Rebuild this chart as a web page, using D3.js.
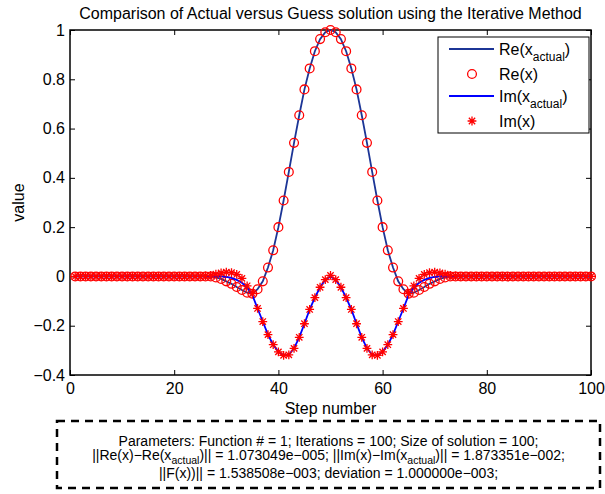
<!DOCTYPE html>
<html>
<head>
<meta charset="utf-8">
<script src="https://cdn.jsdelivr.net/npm/d3@7"></script>
<style>
  body { margin: 0; background: #fff; }
  text { font-family: "Liberation Sans", Arial, sans-serif; fill: #000; }
</style>
</head>
<body>
<svg id="chart" width="605" height="494"></svg>
<script>
// step index 1..100
var steps = d3.range(1, 101);

var reActual = [
  0,0,0,0,0,0,0,0,0,0, 0,0,0,0,0,0,0,0,0,0,
  0,0,0,0,0,0,0,-0.004,-0.010,-0.020,
  -0.030,-0.043,-0.055,-0.066,-0.070,-0.052,-0.020,0.036,0.106,0.200,
  0.308,0.424,0.542,0.654,0.759,0.844,0.914,0.963,0.991,1.000,
  0.991,0.963,0.914,0.844,0.759,0.654,0.542,0.424,0.308,0.200,
  0.106,0.036,-0.020,-0.052,-0.070,-0.066,-0.055,-0.043,-0.030,-0.020,
  -0.010,-0.004,0,0,0,0,0,0,0,0,
  0,0,0,0,0,0,0,0,0,0, 0,0,0,0,0,0,0,0,0,0
];
var reGuess = [
  0,0,0,0,0,0,0,0,0,0, 0,0,0,0,0,0,0,0,0,0,
  0,0,0,0,0,0,0,-0.004,-0.010,-0.020,
  -0.030,-0.043,-0.055,-0.066,-0.070,-0.052,-0.020,0.036,0.106,0.200,
  0.308,0.424,0.542,0.654,0.759,0.844,0.914,0.963,0.991,1.000,
  0.991,0.963,0.914,0.844,0.759,0.654,0.542,0.424,0.308,0.200,
  0.106,0.036,-0.020,-0.052,-0.070,-0.066,-0.055,-0.043,-0.030,-0.020,
  -0.010,-0.004,0,0,0,0,0,0,0,0,
  0,0,0,0,0,0,0,0,0,0, 0,0,0,0,0,0,0,0,0,0
];
var imActual = [
  0,0,0,0,0,0,0,0,0,0, 0,0,0,0,0,0,0,0,0,0,
  0,0,0,0,0,0,0,0,0,-0.002,
  -0.006,-0.014,-0.026,-0.045,-0.075,-0.130,-0.183,-0.236,-0.277,-0.306,
  -0.320,-0.318,-0.292,-0.247,-0.192,-0.134,-0.086,-0.044,-0.013,0,
  -0.013,-0.044,-0.086,-0.134,-0.192,-0.247,-0.292,-0.318,-0.320,-0.306,
  -0.277,-0.236,-0.183,-0.130,-0.075,-0.045,-0.026,-0.014,-0.006,-0.002,
  0,0,0,0,0,0,0,0,0,0,
  0,0,0,0,0,0,0,0,0,0, 0,0,0,0,0,0,0,0,0,0
];
var imGuess = [
  0,0,0,0,0,0,0,0,0,0, 0,0,0,0,0,0,0,0,0,0,
  0,0,0,0,0,0.002,0.004,0.009,0.014,0.017,
  0.015,0.008,-0.008,-0.038,-0.070,-0.130,-0.183,-0.236,-0.277,-0.306,
  -0.320,-0.318,-0.292,-0.247,-0.192,-0.134,-0.086,-0.044,-0.013,0.004,
  -0.013,-0.044,-0.086,-0.134,-0.192,-0.247,-0.292,-0.318,-0.320,-0.306,
  -0.277,-0.236,-0.183,-0.130,-0.070,-0.038,-0.008,0.008,0.015,0.017,
  0.014,0.009,0.004,0.002,0,0,0,0,0,0,
  0,0,0,0,0,0,0,0,0,0, 0,0,0,0,0,0,0,0,0,0
];

var xTicks = [0, 20, 40, 60, 80, 100];
var yTicks = [-0.4, -0.2, 0, 0.2, 0.4, 0.6, 0.8, 1];

var titleText = "Comparison of Actual versus Guess solution using the Iterative Method";
var xLabel = "Step number";
var yLabel = "value";

var svg = d3.select("#chart");
// plot box (do not use "top" as a global name: it is window.top)
var pL = 70, pR = 591, pT = 30, pB = 375;

var x = d3.scaleLinear().domain([0, 100]).range([pL, pR]);
var y = d3.scaleLinear().domain([-0.4, 1]).range([pB, pT]);

var navy = "#1c3596", blue = "#0000ff", red = "#ff0000";

// star marker like matlab '*'
function starPath(cx, cy, r) {
  var d = r * 0.72;
  return "M" + (cx - r) + "," + cy + "H" + (cx + r) +
    "M" + cx + "," + (cy - r) + "V" + (cy + r) +
    "M" + (cx - d) + "," + (cy - d) + "L" + (cx + d) + "," + (cy + d) +
    "M" + (cx - d) + "," + (cy + d) + "L" + (cx + d) + "," + (cy - d);
}

// title
svg.append("text").attr("x", (pL + pR) / 2).attr("y", 19)
  .attr("text-anchor", "middle").style("font-size", "16px").text(titleText);

// axes (ticks inward, box on)
var fmt = d3.format("~g");
svg.append("g").attr("transform", "translate(0," + pB + ")")
  .call(d3.axisBottom(x).tickValues(xTicks).tickFormat(fmt).tickSize(-5).tickPadding(8));
svg.append("g").attr("transform", "translate(0," + pT + ")")
  .call(d3.axisTop(x).tickValues(xTicks).tickFormat("").tickSize(-5));
svg.append("g").attr("transform", "translate(" + pL + ",0)")
  .call(d3.axisLeft(y).tickValues(yTicks).tickFormat(fmt).tickSize(-5).tickPadding(5));
svg.append("g").attr("transform", "translate(" + pR + ",0)")
  .call(d3.axisRight(y).tickValues(yTicks).tickFormat("").tickSize(-5));
svg.selectAll(".domain").remove();
svg.selectAll(".tick line").attr("stroke", "#000").attr("stroke-width", 1);
svg.selectAll(".tick text").style("font-size", "16px")
  .style("font-family", "Liberation Sans, Arial, sans-serif").attr("fill", "#000");

svg.append("rect").attr("x", pL).attr("y", pT)
  .attr("width", pR - pL).attr("height", pB - pT)
  .attr("fill", "none").attr("stroke", "#000").attr("stroke-width", 1.5);

// axis labels
svg.append("text").attr("x", (pL + pR) / 2).attr("y", 414)
  .attr("text-anchor", "middle").style("font-size", "16px").text(xLabel);
svg.append("text").attr("transform", "translate(24," + ((pT + pB) / 2) + ") rotate(-90)")
  .attr("text-anchor", "middle").style("font-size", "16px").text(yLabel);

// series
var plot = svg.append("g");
var line = function (vals) {
  return d3.line().x(function (d, i) { return x(steps[i]); })
    .y(function (d) { return y(d); })(vals);
};

plot.append("path").attr("d", line(reActual)).attr("fill", "none")
  .attr("stroke", navy).attr("stroke-width", 1.8);

plot.selectAll("circle.re").data(reGuess).enter().append("circle")
  .attr("class", "re")
  .attr("cx", function (d, i) { return x(steps[i]); })
  .attr("cy", function (d) { return y(d); })
  .attr("r", 4.4).attr("fill", "none").attr("stroke", red).attr("stroke-width", 1.3);

plot.append("path").attr("d", line(imActual)).attr("fill", "none")
  .attr("stroke", blue).attr("stroke-width", 1.8);

plot.selectAll("path.im").data(imGuess).enter().append("path")
  .attr("class", "im")
  .attr("d", function (d, i) { return starPath(x(steps[i]), y(d), 4.4); })
  .attr("fill", "none").attr("stroke", red).attr("stroke-width", 1.3);

// legend
var lg = svg.append("g");
lg.append("rect").attr("x", 438).attr("y", 37).attr("width", 151).attr("height", 96)
  .attr("fill", "#fff").attr("stroke", "#000").attr("stroke-width", 1);
var rows = [
  { name: "Re(x", sub: "actual", tail: ")", kind: "line", color: navy, cy: 49 },
  { name: "Re(x)", kind: "circle", color: red, cy: 74 },
  { name: "Im(x", sub: "actual", tail: ")", kind: "line", color: blue, cy: 96 },
  { name: "Im(x)", kind: "star", color: red, cy: 121 }
];
rows.forEach(function (r) {
  if (r.kind === "line") {
    lg.append("line").attr("x1", 449).attr("x2", 494).attr("y1", r.cy).attr("y2", r.cy)
      .attr("stroke", r.color).attr("stroke-width", 1.8);
  } else if (r.kind === "circle") {
    lg.append("circle").attr("cx", 472).attr("cy", r.cy).attr("r", 4.4)
      .attr("fill", "none").attr("stroke", r.color).attr("stroke-width", 1.3);
  } else {
    lg.append("path").attr("d", starPath(472, r.cy, 4.4))
      .attr("fill", "none").attr("stroke", r.color).attr("stroke-width", 1.3);
  }
  var t = lg.append("text").attr("x", 499).attr("y", r.cy + 6).style("font-size", "16px");
  t.append("tspan").text(r.name);
  if (r.sub) {
    t.append("tspan").attr("dy", 6).style("font-size", "12px").text(r.sub);
    t.append("tspan").attr("dy", -6).text(r.tail);
  }
});

// parameter box
svg.append("rect").attr("x", 57).attr("y", 421).attr("width", 543).attr("height", 67)
  .attr("fill", "none").attr("stroke", "#000").attr("stroke-width", 2.5)
  .attr("stroke-dasharray", "8,6");

var cx = (57 + 600) / 2;
function boxLine(yy, parts) {
  var t = svg.append("text").attr("x", cx).attr("y", yy).attr("text-anchor", "middle")
    .style("font-size", "14px");
  parts.forEach(function (p) {
    var s = t.append("tspan").text(p.t);
    if (p.sub) s.attr("dy", 4).style("font-size", "10.5px");
    if (p.up) s.attr("dy", -4);
  });
}
boxLine(446, [{ t: "Parameters: Function # = 1; Iterations = 100; Size of solution = 100;" }]);
boxLine(460, [
  { t: "||Re(x)\u2212Re(x" }, { t: "actual", sub: true },
  { t: ")|| = 1.073049e\u2212005; ||Im(x)\u2212Im(x", up: true }, { t: "actual", sub: true },
  { t: ")|| = 1.873351e\u2212002;", up: true }
]);
boxLine(478, [{ t: "||F(x))|| = 1.538508e\u2212003; deviation = 1.000000e\u2212003;" }]);
</script>
</body>
</html>
